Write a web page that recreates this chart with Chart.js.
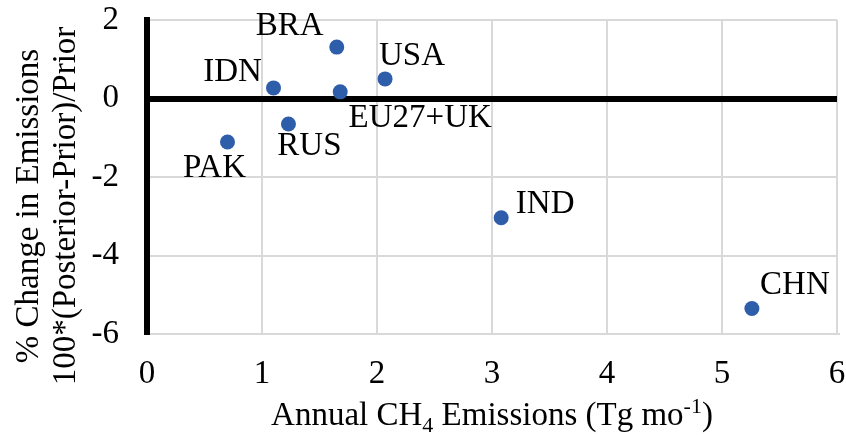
<!DOCTYPE html>
<html>
<head>
<meta charset="utf-8">
<script src="https://cdn.jsdelivr.net/npm/chart.js@4/dist/chart.umd.min.js"></script>
<style>
    html, body { margin: 0; padding: 0; background: #fff; }
    #wrap { width: 846px; height: 437px; }
</style>
</head>
<body>
<div id="wrap"><canvas id="scatter"></canvas></div>
<script>
// Country totals vs. inversion adjustment
const countries       = ['BRA', 'USA', 'IDN', 'EU27+UK', 'RUS', 'PAK', 'IND', 'CHN'];
const annualEmissions = [1.65, 2.07, 1.10, 1.68, 1.23, 0.70, 3.08, 5.26];
const pctChange       = [1.31, 0.50, 0.27, 0.17, -0.65, -1.11, -3.04, -5.35];
const xRange = [0, 6];
const yRange = [-6, 2];

// where each country name sits relative to its dot (px)
const labelOffsets = [[-47, -21], [27, -23], [-41, -16], [80, 27], [21, 22], [-13, 26], [44, -13], [43, -23]];

const FONT = "'Liberation Serif', 'Times New Roman', serif";
const GRID = '#d9d9d9';

// draws the country names and the two axis titles (sub/superscripts)
const textPlugin = {
    id: 'textPlugin',
    afterDatasetsDraw(chart) {
        const ctx = chart.ctx;
        const meta = chart.getDatasetMeta(0);
        ctx.save();
        ctx.font = `33px ${FONT}`;
        ctx.fillStyle = '#000';
        ctx.textAlign = 'center';
        ctx.textBaseline = 'middle';
        meta.data.forEach((pt, i) => {
            ctx.fillText(countries[i], pt.x + labelOffsets[i][0], pt.y + labelOffsets[i][1]);
        });
        ctx.restore();
    },
    afterDraw(chart) {
        const ctx = chart.ctx;
        const area = chart.chartArea;
        ctx.save();
        ctx.fillStyle = '#000';
        ctx.textBaseline = 'alphabetic';

        // x title: Annual CH4 Emissions (Tg mo-1)
        const big = `33px ${FONT}`, small = `22px ${FONT}`;
        const parts = [
            { t: 'Annual CH', f: big, dy: 0 },
            { t: '4', f: small, dy: 7 },
            { t: ' Emissions (Tg mo', f: big, dy: 0 },
            { t: '-1', f: small, dy: -12 },
            { t: ')', f: big, dy: 0 }
        ];
        let total = 0;
        parts.forEach(p => { ctx.font = p.f; p.w = ctx.measureText(p.t).width; total += p.w; });
        let x = (area.left + area.right) / 2 - total / 2;
        const base = 425;
        ctx.textAlign = 'left';
        parts.forEach(p => {
            ctx.font = p.f;
            ctx.fillText(p.t, x, base + p.dy);
            x += p.w;
        });

        // y title, two lines
        ctx.font = big;
        ctx.textAlign = 'center';
        [['% Change in Emissions', 38], ['100*(Posterior-Prior)/Prior', 75]].forEach(([txt, bx]) => {
            ctx.save();
            ctx.translate(bx, 206);
            ctx.rotate(-Math.PI / 2);
            ctx.fillText(txt, 0, 0);
            ctx.restore();
        });
        ctx.restore();
    }
};

// keep tick-label overhang from shrinking the plot area
function noOverhang(scale) {
    scale.paddingTop = 0;
    scale.paddingBottom = 0;
    scale.paddingLeft = 0;
    scale.paddingRight = 0;
}

const chart = new Chart(document.getElementById('scatter'), {
    type: 'scatter',
    data: {
        datasets: [{
            data: annualEmissions.map((v, i) => ({ x: v, y: pctChange[i] })),
            backgroundColor: '#2E5EAA',
            borderWidth: 0,
            pointRadius: 7.5,
            pointHoverRadius: 7.5
        }]
    },
    options: {
        responsive: true,
        maintainAspectRatio: false,
        animation: false,
        layout: { padding: { top: 20, right: 9, left: 0, bottom: 0 } },
        plugins: {
            legend: { display: false },
            tooltip: { enabled: false }
        },
        scales: {
            x: {
                type: 'linear',
                min: xRange[0],
                max: xRange[1],
                afterFit(scale) { scale.height = 103; noOverhang(scale); },
                ticks: {
                    stepSize: 1,
                    padding: 21,
                    color: '#000',
                    font: { family: FONT, size: 33 }
                },
                grid: {
                    drawTicks: false,
                    color: c => (c.tick && c.tick.value === 0 ? '#000' : GRID),
                    lineWidth: c => (c.tick && c.tick.value === 0 ? 6 : 2)
                },
                border: { color: GRID, width: 2 }
            },
            y: {
                type: 'linear',
                min: yRange[0],
                max: yRange[1],
                afterFit(scale) { scale.width = 147; noOverhang(scale); },
                ticks: {
                    stepSize: 2,
                    padding: 28,
                    color: '#000',
                    font: { family: FONT, size: 33 }
                },
                grid: {
                    drawTicks: false,
                    color: c => (c.tick && c.tick.value === 0 ? '#000' : GRID),
                    lineWidth: c => (c.tick && c.tick.value === 0 ? 6 : 2)
                },
                border: { color: '#000', width: 6 }
            }
        }
    },
    plugins: [textPlugin]
});
</script>
</body>
</html>
